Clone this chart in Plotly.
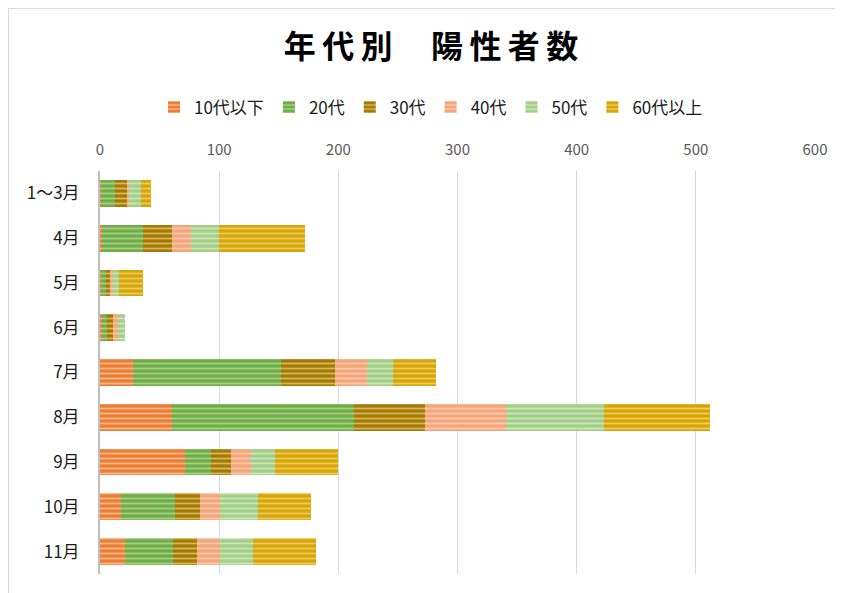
import plotly.graph_objects as go

months = ["1～3月", "4月", "5月", "6月", "7月", "8月", "9月", "10月", "11月"]
series_names = ["10代以下", "20代", "30代", "40代", "50代", "60代以上"]
v10 = [1, 2, 1, 2, 28, 60, 71, 18, 21]
v20 = [12, 34, 4, 4, 124, 153, 22, 45, 40]
v30 = [10, 24, 3, 5, 45, 60, 17, 21, 20]
v40 = [1, 16, 3, 4, 27, 68, 17, 17, 20]
v50 = [10, 24, 5, 6, 22, 82, 20, 32, 27]
v60 = [9, 72, 20, 0, 36, 89, 53, 44, 53]
x_ticks = [0, 100, 200, 300, 400, 500, 600]

values = [v10, v20, v30, v40, v50, v60]
colors = ["#ED7D31", "#70AD47", "#A27A05", "#F4A67A", "#A3CF86", "#D6A50C"]
stripe = ["#F7B98E", "#A6D08A", "#D9B85A", "#FAC9AB", "#CDE6BB", "#F0CC55"]

font = "Noto Sans CJK JP"
L, R, T, B = 92, 36, 163, 27
PW = 843 - L - R
PH = 593 - T - B

fig = go.Figure()
for name, vals, c, s in zip(series_names, values, colors, stripe):
    fig.add_trace(go.Bar(
        y=months, x=vals, name=name, orientation="h",
        marker=dict(color=c, line=dict(width=0),
                    pattern=dict(shape="-", fgcolor=s, bgcolor=c,
                                 size=5, solidity=0.35, fillmode="replace")),
    ))

title_text = "\u2009".join(list("年代別")) + "\u3000\u2009" + "\u2009".join(list("陽性者数"))

fig.update_layout(
    barmode="stack",
    bargap=0.4,
    width=843, height=593,
    margin=dict(l=L, r=R, t=T, b=B),
    paper_bgcolor="white", plot_bgcolor="white",
    font=dict(family=font, color="#404040", size=15),
    title=dict(text="<b>" + title_text + "</b>", x=(431 - 8) / 843, xanchor="center",
               y=1 - 39 / 593, yanchor="middle",
               font=dict(family=font, size=32, color="#000000")),
    legend=dict(orientation="h", x=(431 - 8 - L) / PW, xanchor="center",
                y=(566.5 - 100) / PH, yanchor="middle",
                font=dict(size=17, color="#1a1a1a"),
                itemwidth=30, traceorder="normal"),
    xaxis=dict(side="top", range=[0, 600], tickvals=x_ticks,
               showgrid=True, gridcolor="#D9D9D9", gridwidth=1,
               zeroline=False, tickfont=dict(size=15, color="#595959"),
               ticks="", ticklabelstandoff=12, fixedrange=True),
    yaxis=dict(categoryorder="array", categoryarray=months,
               autorange="reversed", showline=True, linecolor="#BFBFBF",
               linewidth=2, ticks="", ticklabelstandoff=15,
               tickfont=dict(size=17, color="#1a1a1a")),
    showlegend=True,
)

# chart area border (left and top edges)
bx = (0.5 - L) / PW
by = (PH + T - 0.5) / PH
fig.add_shape(type="line", xref="paper", yref="paper",
              x0=bx, x1=1.5, y0=by, y1=by,
              line=dict(color="#D9D9D9", width=1))
fig.add_shape(type="line", xref="paper", yref="paper",
              x0=bx, x1=bx, y0=-0.5, y1=by,
              line=dict(color="#D9D9D9", width=1))

fig.write_html("out.html")
